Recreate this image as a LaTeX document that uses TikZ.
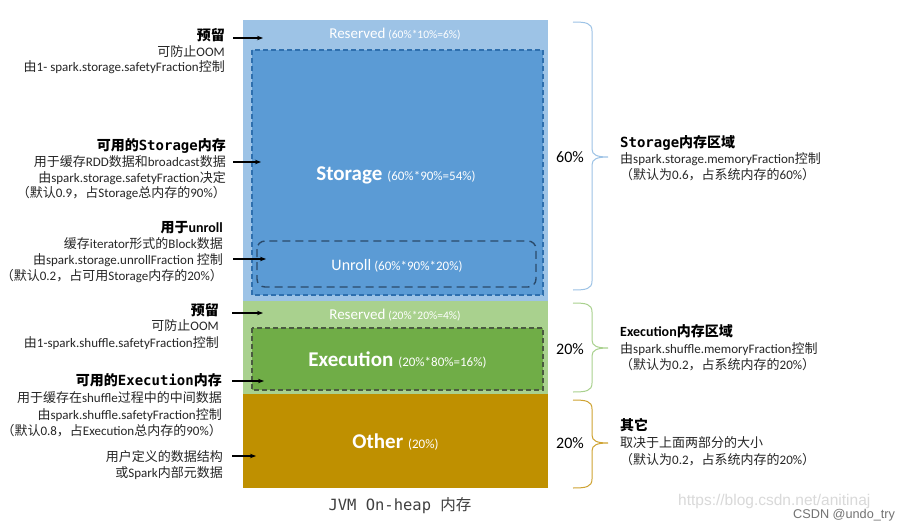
\documentclass[tikz,border=0pt]{standalone}
\usepackage{fontspec}
\setmainfont{Noto Sans CJK SC}
\newfontfamily\lafont{Carlito}
\newfontfamily\mofont{DejaVu Sans Mono}
\newfontfamily\wmfont{Liberation Sans}
\newcommand\la[1]{{\lafont #1}}
\newcommand\mo[1]{{\mofont #1}}
\usetikzlibrary{arrows.meta}
\definecolor{resblue}{HTML}{9DC3E6}
\definecolor{stblue}{HTML}{5B9BD5}
\definecolor{stedge}{HTML}{2E6FAE}
\definecolor{unedge}{HTML}{2A4A6B}
\definecolor{resgreen}{HTML}{A9D18E}
\definecolor{exgreen}{HTML}{70AD47}
\definecolor{exedge}{HTML}{4A5A40}
\definecolor{othgold}{HTML}{BF9000}
\definecolor{brblue}{HTML}{9DC3E6}
\definecolor{brgreen}{HTML}{A9D18E}
\definecolor{brgold}{HTML}{CFA332}
\definecolor{txt}{HTML}{262626}
\newcommand\mybrace[4]{%
  \draw[#4, line width=1pt] (573,#1) .. controls (586,#1) and (592,#1+1) .. (592,#1+9)
    -- (592,#2-8) .. controls (592,#2-2) and (597,#2) .. (608,#2)
    .. controls (597,#2) and (592,#2+2) .. (592,#2+8)
    -- (592,#3-9) .. controls (592,#3-1) and (586,#3) .. (573,#3);}
\begin{document}
\begin{tikzpicture}[x=1pt,y=-1pt,
  ttl/.style={inner sep=0pt, text=black, font=\fontsize{14}{17}\selectfont\bfseries},
  body/.style={inner sep=0pt, text=txt, font=\fontsize{13}{16}\selectfont},
  lt/.style={anchor=base east},
  rt/.style={anchor=base west},
  blk/.style={inner sep=0pt, text=white, font=\lafont, anchor=base},
  pct/.style={inner sep=0pt, text=black, font=\lafont\fontsize{16}{19}\selectfont},
  arr/.style={-{Stealth[length=6pt,width=4.5pt]}, line width=1.3pt, black}]
\useasboundingbox (0,0) rectangle (911,530);
\fill[white] (0,0) rectangle (911,530);

% ---- column ----
\fill[resblue] (243,20) rectangle (548,301);
\draw[stedge, fill=stblue, line width=1.2pt, dash pattern=on 5pt off 3pt] (252,50) rectangle (543,295);
\draw[unedge, rounded corners=8pt, line width=1.4pt, dash pattern=on 8pt off 5pt] (257,241) rectangle (536,287);
\fill[resgreen] (243,301) rectangle (548,394);
\draw[exedge, fill=exgreen, line width=1.2pt, dash pattern=on 5pt off 3pt] (252,328) rectangle (543,390);
\fill[othgold] (243,394) rectangle (548,488);

\node[blk] (res1) at (395,38) {{\fontsize{15}{18}\selectfont Reserved}\hspace{3pt}{\fontsize{11.5}{14}\selectfont (60\%*10\%=6\%)}};
\node[blk] (stor) at (396,180) {{\fontsize{21}{24}\selectfont\bfseries Storage}\hspace{5pt}{\fontsize{13}{15}\selectfont (60\%*90\%=54\%)}};
\node[blk] (unr) at (397,270) {{\fontsize{16}{19}\selectfont Unroll}\hspace{3pt}{\fontsize{13}{15}\selectfont (60\%*90\%*20\%)}};
\node[blk] (res2) at (395,319) {{\fontsize{15}{18}\selectfont Reserved}\hspace{3pt}{\fontsize{11.5}{14}\selectfont (20\%*20\%=4\%)}};
\node[blk] (exe) at (397.5,366) {{\fontsize{21}{24}\selectfont\bfseries Execution}\hspace{5pt}{\fontsize{13}{15}\selectfont (20\%*80\%=16\%)}};
\node[blk] (oth) at (395.5,448) {{\fontsize{21}{24}\selectfont\bfseries Other}\hspace{5pt}{\fontsize{13}{15}\selectfont (20\%)}};
\node[inner sep=0pt, anchor=base, text=black!75, font=\fontsize{15.5}{18}\selectfont] (jvm) at (400,510) {\mo{JVM On-heap }内存};

% ---- left texts ----
\node[ttl,lt] (l1t) at (225,40) {预留};
\node[body,lt] (l1a) at (225,56.5) {可防止\la{OOM}};
\node[body,lt] (l1b) at (225,71.5) {由\la{1- spark.storage.safetyFraction}控制};

\node[ttl,lt] (l2t) at (226,150) {可用的\mo{Storage}内存};
\node[body,lt] (l2a) at (226,166.5) {用于缓存\la{RDD}数据和\la{broadcast}数据};
\node[body,lt] (l2b) at (226,182.5) {由\la{spark.storage.safetyFraction}决定};
\node[body,lt] (l2c) at (226,197.5) {（默认\la{0.9}，占\la{Storage}总内存的\la{90\%}）};

\node[ttl,lt] (l3t) at (223,232) {用于\la{unroll}};
\node[body,lt] (l3a) at (223,248.5) {缓存\la{iterator}形式的\la{Block}数据};
\node[body,lt] (l3b) at (223,264.5) {由\la{spark.storage.unrollFraction }控制};
\node[body,lt] (l3c) at (223,280.5) {（默认\la{0.2}，占可用\la{Storage}内存的\la{20\%}）};

\node[ttl,lt] (l4t) at (219,315) {预留};
\node[body,lt] (l4a) at (219,330.5) {可防止\la{OOM}};
\node[body,lt] (l4b) at (219,347.5) {由\la{1-spark.shuffle.safetyFraction}控制};

\node[ttl,lt] (l5t) at (222,385) {可用的\mo{Execution}内存};
\node[body,lt] (l5a) at (222,402.5) {用于缓存在\la{shuffle}过程中的中间数据};
\node[body,lt] (l5b) at (222,419.5) {由\la{spark.shuffle.safetyFraction}控制};
\node[body,lt] (l5c) at (222,435.5) {（默认\la{0.8}，占\la{Execution}总内存的\la{90\%}）};

\node[body,lt] (l6a) at (223,461.5) {用户定义的数据结构};
\node[body,lt] (l6b) at (223,477.5) {或\la{Spark}内部元数据};

% ---- arrows ----
\coordinate (a1s) at (233,38);  \coordinate (a1e) at (263,38);
\coordinate (a2s) at (233,162); \coordinate (a2e) at (261,162);
\coordinate (a3s) at (233,259); \coordinate (a3e) at (266,259);
\coordinate (a4s) at (232,313); \coordinate (a4e) at (263,313);
\coordinate (a5s) at (232,381); \coordinate (a5e) at (264,381);
\coordinate (a6s) at (232,456); \coordinate (a6e) at (256,456);
\draw[arr] (a1s) -- (a1e);
\draw[arr] (a2s) -- (a2e);
\draw[arr] (a3s) -- (a3e);
\draw[arr] (a4s) -- (a4e);
\draw[arr] (a5s) -- (a5e);
\draw[arr] (a6s) -- (a6e);

% ---- braces ----
\mybrace{22}{157}{290}{brblue}
\mybrace{303}{348}{392}{brgreen}
\mybrace{400}{443}{488}{brgold}
\node[pct] (p1) at (570,157) {60\%};
\node[pct] (p2) at (570,349) {20\%};
\node[pct] (p3) at (570,443) {20\%};

% ---- right texts ----
\node[ttl,rt] (r1t) at (620,147) {\mo{Storage}内存区域};
\node[body,rt] (r1a) at (620,163.5) {由\la{spark.storage.memoryFraction}控制};
\node[body,rt] (r1b) at (620,179.5) {（默认为\la{0.6}，占系统内存的\la{60\%}）};
\node[ttl,rt] (r2t) at (620,336) {\la{Execution}内存区域};
\node[body,rt] (r2a) at (620,353.5) {由\la{spark.shuffle.memoryFraction}控制};
\node[body,rt] (r2b) at (620,369.5) {（默认为\la{0.2}，占系统内存的\la{20\%}）};
\node[ttl,rt] (r3t) at (620,430) {其它};
\node[body,rt] (r3a) at (620,447.5) {取决于上面两部分的大小};
\node[body,rt] (r3b) at (620,464.5) {（默认为\la{0.2}，占系统内存的\la{20\%}）};

% ---- watermark ----
\node[inner sep=0pt, anchor=base west, text=black!15, font=\wmfont\fontsize{15.5}{18}\selectfont] (wm1) at (678,505) {https://blog.csdn.net/anitinaj};
\node[inner sep=0pt, anchor=base west, text=black!55, font=\wmfont\fontsize{12.7}{15}\selectfont] (wm2) at (793,518) {CSDN @undo\_try};
\end{tikzpicture}
\end{document}
